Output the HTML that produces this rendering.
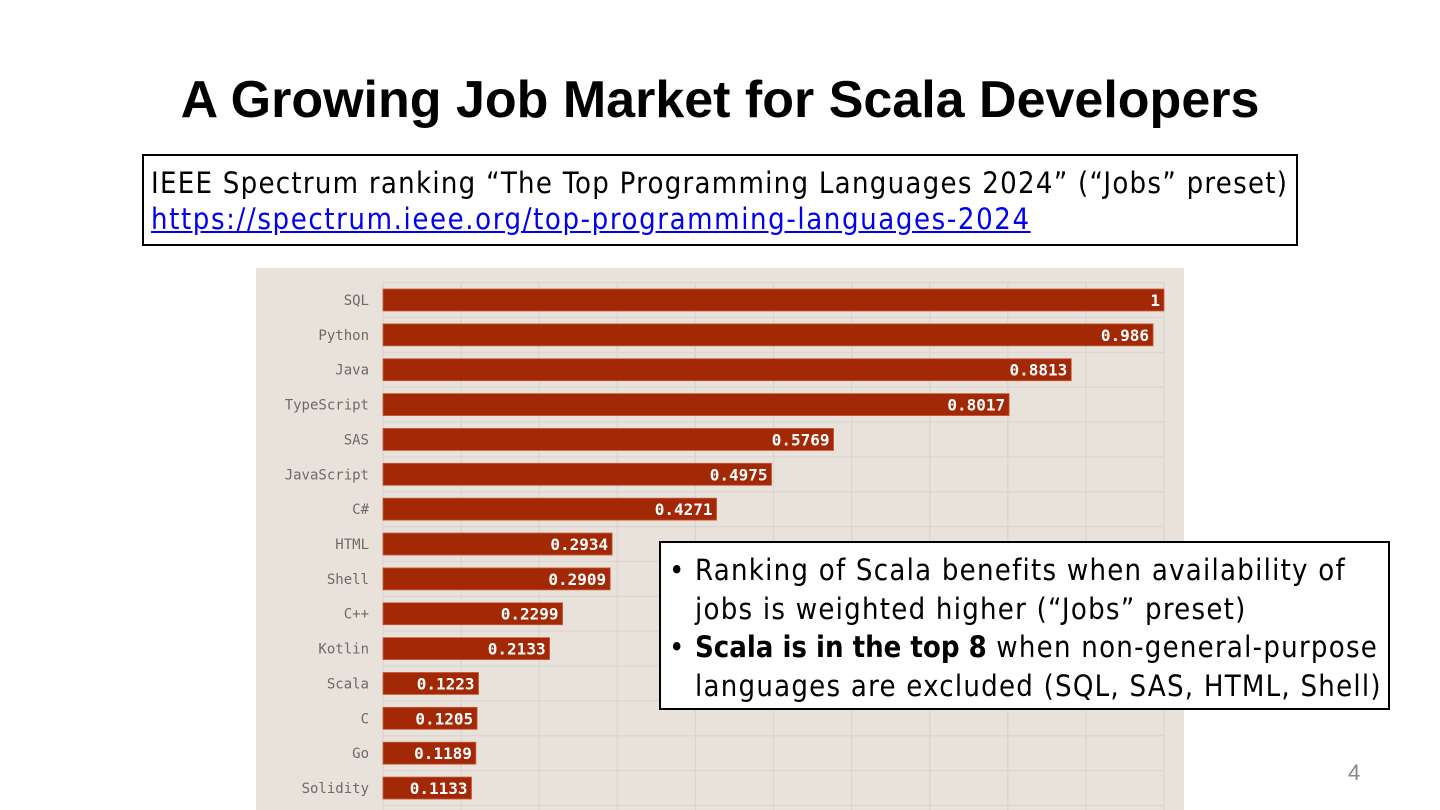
<!DOCTYPE html>
<html><head><meta charset="utf-8"><style>
body{margin:0;width:1440px;height:810px;background:#fff;position:relative;overflow:hidden;font-family:"Liberation Sans",sans-serif}
.t{position:absolute}
.cb{font-family:'DejaVu Sans Condensed','DejaVu Sans',sans-serif;font-size:29px;letter-spacing:1.1px}
</style></head><body>
<div class="t" style="left:0;width:1440px;top:70px;text-align:center;font-weight:bold;font-size:52px;color:#000">A Growing Job Market for Scala Developers</div>
<div class="t cb" style="left:142px;top:154px;width:1152px;height:88px;border:2px solid #000;line-height:36px">
<div style="position:absolute;left:7px;top:9px;white-space:nowrap;letter-spacing:1.27px">IEEE Spectrum ranking “The Top Programming Languages 2024” (“Jobs” preset)</div>
<div style="position:absolute;left:7px;top:45px;white-space:nowrap;color:#0000ee;text-decoration:underline;letter-spacing:1.6px">https://spectrum.ieee.org/top-programming-languages-2024</div>
</div>
<svg class="t" style="left:256px;top:268px" width="928" height="542">
<rect width="928" height="542" fill="#e8e2da"/>
<g id="grid"></g><g id="bars"></g>
</svg>
<div class="t cb" style="left:659px;top:541px;width:727px;height:165px;border:2px solid #000;background:#fff;line-height:38.5px;letter-spacing:1.25px">
<div style="position:absolute;left:8px;top:8px;white-space:nowrap"><span style="display:inline-block;width:26px">•</span>Ranking of Scala benefits when availability of<br><span style="display:inline-block;width:26px"></span>jobs is weighted higher (“Jobs” preset)</div>
<div style="position:absolute;left:8px;top:85px;white-space:nowrap"><span style="display:inline-block;width:26px">•</span><b style="letter-spacing:0px">Scala is in the top 8</b> when non-general-purpose<br><span style="display:inline-block;width:26px"></span>languages are excluded (SQL, SAS, HTML, Shell)</div>
</div>
<div class="t" style="left:1348px;top:760px;font-size:22px;color:#888">4</div>
<script>
const categories=["SQL","Python","Java","TypeScript","SAS","JavaScript","C#","HTML","Shell","C++","Kotlin","Scala","C","Go","Solidity"];
const values=[1,0.986,0.8813,0.8017,0.5769,0.4975,0.4271,0.2934,0.2909,0.2299,0.2133,0.1223,0.1205,0.1189,0.1133];
const valueLabels=["1","0.986","0.8813","0.8017","0.5769","0.4975","0.4271","0.2934","0.2909","0.2299","0.2133","0.1223","0.1205","0.1189","0.1133"];
const gridTicks=[0,0.1,0.2,0.3,0.4,0.5,0.6,0.7,0.8,0.9,1];
const NS="http://www.w3.org/2000/svg";
const x0=127,xw=781,y0=32,step=34.86,bh=22;
const xs=v=>x0+v*xw, ys=i=>y0+i*step;
const grid=document.getElementById('grid'),bars=document.getElementById('bars');
function mk(t,a){const e=document.createElementNS(NS,t);for(const k in a)e.setAttribute(k,a[k]);return e;}
gridTicks.forEach(v=>{const l=mk('line',{x1:xs(v),x2:xs(v),y1:15,y2:542,stroke:'#d8d5d2','stroke-width':1.2});

grid.appendChild(l);});
for(let i=0;i<=categories.length;i++){const y=ys(i)-step/2;const l=mk('line',{x1:x0,x2:xs(1),y1:y,y2:y,stroke:'#d8d5d2','stroke-width':1.2});

grid.appendChild(l);}
categories.forEach((c,i)=>{const y=ys(i);
const lab=mk('text',{x:113,y:y+5,'text-anchor':'end','font-family':'DejaVu Sans Mono,Liberation Mono,monospace','font-size':14,fill:'#6b6b6b'});lab.textContent=c;

bars.appendChild(lab);
const r=mk('rect',{x:x0,y:y-bh/2,width:values[i]*xw,height:bh,fill:'#a32806',stroke:'#c8603f','stroke-width':0.8});

bars.appendChild(r);
const t=mk('text',{x:xs(values[i])-4,y:y+6,'text-anchor':'end','font-family':'DejaVu Sans Mono,Liberation Mono,monospace','font-size':16,'font-weight':'bold',fill:'#fff'});t.textContent=valueLabels[i];

bars.appendChild(t);});
</script>
</body></html>
